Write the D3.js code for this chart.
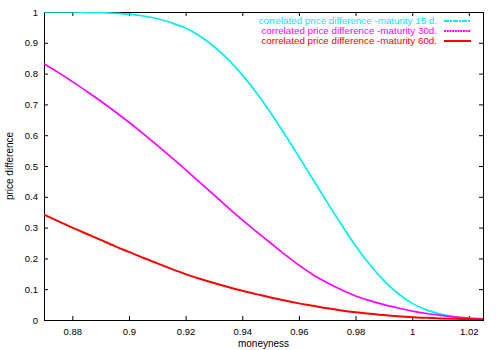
<!DOCTYPE html>
<html>
<head>
<meta charset="utf-8">
<script src="https://cdn.jsdelivr.net/npm/d3@7"></script>
<style>
  body { margin: 0; background: #fff; }
  svg { display: block; font-family: "Liberation Sans", Arial, sans-serif; }
  .tick text { font-size: 9.5px; fill: #000; }
</style>
</head>
<body>
<svg id="chart" width="500" height="350"></svg>
<script>
// moneyness grid (x)
const moneyness = [0.870, 0.875, 0.880, 0.885, 0.890, 0.895, 0.900, 0.905, 0.910, 0.915,
  0.920, 0.925, 0.930, 0.935, 0.940, 0.945, 0.950, 0.955, 0.960, 0.965,
  0.970, 0.975, 0.980, 0.985, 0.990, 0.995, 1.000, 1.005, 1.010, 1.015, 1.020, 1.025];

// correlated price difference
const maturity15 = [1.000, 1.000, 1.000, 0.999, 0.998, 0.996, 0.993, 0.987, 0.978, 0.965,
  0.948, 0.922, 0.888, 0.846, 0.796, 0.738, 0.673, 0.603, 0.530, 0.456,
  0.382, 0.310, 0.241, 0.180, 0.128, 0.086, 0.054, 0.033, 0.019, 0.010, 0.005, 0.003];
const maturity30 = [0.832, 0.804, 0.774, 0.743, 0.711, 0.677, 0.642, 0.605, 0.567, 0.528,
  0.488, 0.447, 0.406, 0.365, 0.325, 0.287, 0.250, 0.213, 0.178, 0.147,
  0.121, 0.098, 0.078, 0.063, 0.050, 0.039, 0.029, 0.021, 0.015, 0.010, 0.006, 0.004];
const maturity60 = [0.342, 0.321, 0.300, 0.280, 0.260, 0.240, 0.221, 0.202, 0.184, 0.166,
  0.149, 0.134, 0.120, 0.107, 0.095, 0.084, 0.073, 0.063, 0.054, 0.046,
  0.038, 0.031, 0.025, 0.020, 0.016, 0.012, 0.009, 0.007, 0.005, 0.004, 0.003, 0.002];

const xTicks = [0.88, 0.9, 0.92, 0.94, 0.96, 0.98, 1, 1.02];
const yTicks = [0, 0.1, 0.2, 0.3, 0.4, 0.5, 0.6, 0.7, 0.8, 0.9, 1];

const series = [
  { label: "correlated price difference -maturity 15 d.", values: maturity15, color: "#00eeee", dash: "5,1,2,1", w: 1.7 },
  { label: "correlated price difference -maturity 30d.", values: maturity30, color: "#ff00ff", dash: "2,0.7", w: 1.7 },
  { label: "correlated price difference -maturity 60d.", values: maturity60, color: "#ff0000", dash: null, w: 2 }
];

const margin = { top: 12, right: 17, bottom: 30, left: 44 };
const width = 500, height = 350;

const svg = d3.select("#chart");

const x = d3.scaleLinear().domain([0.87, 1.025]).range([margin.left, width - margin.right]);
const y = d3.scaleLinear().domain([0, 1]).range([height - margin.bottom, margin.top]);

svg.append("clipPath").attr("id", "plot-clip")
  .append("rect")
  .attr("x", x.range()[0]).attr("y", y.range()[1])
  .attr("width", x.range()[1] - x.range()[0])
  .attr("height", y.range()[0] - y.range()[1]);

const fmt = d => String(+d.toFixed(2));

// gnuplot style: ticks inward on all four sides
svg.append("g")
  .attr("transform", `translate(0,${y(0)})`)
  .call(d3.axisBottom(x).tickValues(xTicks).tickFormat(fmt).tickSizeInner(-4).tickSizeOuter(0).tickPadding(8))
  .call(g => g.select(".domain").remove());
svg.append("g")
  .attr("transform", `translate(0,${y(1)})`)
  .call(d3.axisTop(x).tickValues(xTicks).tickFormat("").tickSizeInner(-4).tickSizeOuter(0))
  .call(g => g.select(".domain").remove());
svg.append("g")
  .attr("transform", `translate(${x.range()[0]},0)`)
  .call(d3.axisLeft(y).tickValues(yTicks).tickFormat(fmt).tickSizeInner(-4).tickSizeOuter(0).tickPadding(6))
  .call(g => g.select(".domain").remove());
svg.append("g")
  .attr("transform", `translate(${x.range()[1]},0)`)
  .call(d3.axisRight(y).tickValues(yTicks).tickFormat("").tickSizeInner(-4).tickSizeOuter(0))
  .call(g => g.select(".domain").remove());

svg.selectAll(".tick line").attr("stroke", "#000");

svg.append("rect")
  .attr("x", x.range()[0] + 0.5).attr("y", y.range()[1] + 0.5)
  .attr("width", x.range()[1] - x.range()[0])
  .attr("height", y.range()[0] - y.range()[1])
  .attr("fill", "none").attr("stroke", "#000");

const line = d3.line()
  .x((d, i) => x(moneyness[i]))
  .y(d => y(d))
  .curve(d3.curveMonotoneX);

// curves look near solid in the original, the dash pattern only shows in the key
svg.append("g").attr("clip-path", "url(#plot-clip)")
  .selectAll("path")
  .data(series)
  .join("path")
  .attr("d", s => line(s.values))
  .attr("fill", "none")
  .attr("stroke", s => s.color)
  .attr("stroke-width", s => s.w);

// legend
const legend = svg.append("g").selectAll("g")
  .data(series)
  .join("g")
  .attr("transform", (s, i) => `translate(0,${21 + i * 10})`);
legend.append("text")
  .attr("x", 437).attr("dy", "0.35em")
  .attr("text-anchor", "end")
  .attr("font-size", 9.8)
  .attr("fill", s => s.color)
  .text(s => s.label);
legend.append("line")
  .attr("x1", 444).attr("x2", 471)
  .attr("stroke", s => s.color)
  .attr("stroke-width", 2)
  .attr("stroke-dasharray", s => s.dash);

// axis titles
svg.append("text")
  .attr("x", (x.range()[0] + x.range()[1]) / 2).attr("y", 347)
  .attr("text-anchor", "middle").attr("font-size", 10)
  .text("moneyness");
svg.append("text")
  .attr("transform", `translate(13,${(y.range()[0] + y.range()[1]) / 2}) rotate(-90)`)
  .attr("text-anchor", "middle").attr("font-size", 10)
  .text("price difference");
</script>
</body>
</html>
